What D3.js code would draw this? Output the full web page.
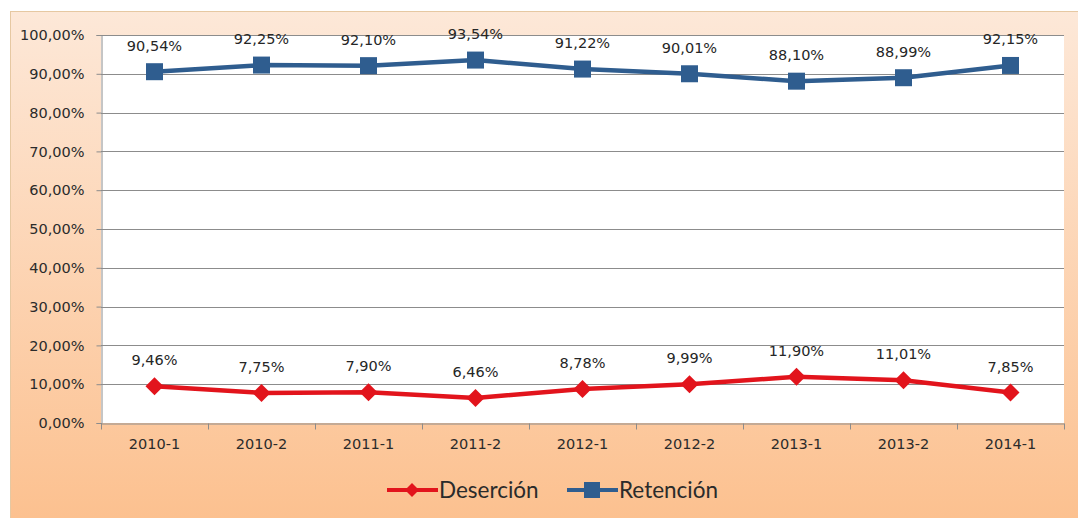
<!DOCTYPE html>
<html>
<head>
<meta charset="utf-8">
<script src="https://cdn.jsdelivr.net/npm/d3@7"></script>
<style>
  html, body { margin: 0; padding: 0; background: #fff; }
  svg { display: block; }
</style>
</head>
<body>
<script>
// chart data
const periods = ['2010-1', '2010-2', '2011-1', '2011-2', '2012-1', '2012-2', '2013-1', '2013-2', '2014-1'];
const desercion = [9.46, 7.75, 7.90, 6.46, 8.78, 9.99, 11.90, 11.01, 7.85];
const retencion = [90.54, 92.25, 92.10, 93.54, 91.22, 90.01, 88.10, 88.99, 92.15];
const yTicks = [0, 10, 20, 30, 40, 50, 60, 70, 80, 90, 100];

const W = 1078, H = 518;
const plot = { left: 101, right: 1064, top: 35, bottom: 423 };

const fmt = v => v.toFixed(2).replace('.', ',') + '%';

const svg = d3.select('body').append('svg')
    .attr('width', W)
    .attr('height', H);

const defs = svg.append('defs');
const grad = defs.append('linearGradient')
    .attr('id', 'bg')
    .attr('x1', 0).attr('y1', 0).attr('x2', 0).attr('y2', 1);
grad.append('stop').attr('offset', '0%').attr('stop-color', '#fde8d8');
grad.append('stop').attr('offset', '100%').attr('stop-color', '#fcc08e');

// outer frame
svg.append('rect')
    .attr('x', 10.5).attr('y', 11.5)
    .attr('width', W).attr('height', H)
    .attr('fill', 'url(#bg)')
    .attr('stroke', '#e6c8a2');

const x = d3.scaleBand()
    .domain(periods)
    .range([plot.left, plot.right]);

const y = d3.scaleLinear()
    .domain([0, 100])
    .range([plot.bottom, plot.top]);

// plot area
svg.append('rect')
    .attr('x', plot.left).attr('y', plot.top)
    .attr('width', plot.right - plot.left)
    .attr('height', plot.bottom - plot.top)
    .attr('fill', '#fff');

// gridlines
svg.append('g')
    .selectAll('line')
    .data(yTicks.filter(d => d > 0))
    .enter().append('line')
    .attr('x1', plot.left).attr('x2', plot.right)
    .attr('y1', d => Math.round(y(d)) + 0.5)
    .attr('y2', d => Math.round(y(d)) + 0.5)
    .attr('stroke', '#8c8c8c')
    .attr('stroke-width', 1);

// y axis
const yAxis = svg.append('g')
    .attr('transform', `translate(${plot.left + 0.5},0)`)
    .call(d3.axisLeft(y).tickValues(yTicks).tickSize(5).tickPadding(12).tickFormat(fmt));

// x axis
const xAxis = svg.append('g')
    .attr('transform', `translate(0,${plot.bottom + 0.5})`)
    .call(d3.axisBottom(x).tickSize(0).tickPadding(15));

// category boundary ticks
xAxis.append('g')
    .selectAll('line')
    .data(d3.range(periods.length + 1))
    .enter().append('line')
    .attr('x1', i => Math.round(plot.left + i * x.step()) + 0.5)
    .attr('x2', i => Math.round(plot.left + i * x.step()) + 0.5)
    .attr('y1', 0).attr('y2', 6)
    .attr('stroke', '#8c8c8c');

[yAxis, xAxis].forEach(ax => {
    ax.select('.domain').attr('stroke', '#8c8c8c');
    ax.selectAll('.tick line').attr('stroke', '#8c8c8c');
    ax.selectAll('text')
        .attr('fill', '#2b2b2b')
        .style('font-family', 'DejaVu Sans, Verdana, sans-serif')
        .style('font-size', '14.5px');
});

const cx = d => x(d) + x.bandwidth() / 2;

const series = [
    { name: 'Deserción', values: desercion, color: '#e2141c', marker: 'diamond' },
    { name: 'Retención', values: retencion, color: '#2f5d8f', marker: 'square' }
];

const markerPath = (type, s) => {
    if (type === 'square') return `M${-s},${-s}H${s}V${s}H${-s}Z`;
    return `M0,${-s}L${s},0L0,${s}L${-s},0Z`;
};

series.forEach(s => {
    const pts = periods.map((p, i) => [cx(p), y(s.values[i])]);

    svg.append('path')
        .attr('d', d3.line()(pts))
        .attr('fill', 'none')
        .attr('stroke', s.color)
        .attr('stroke-width', 4.5)
        .attr('stroke-linejoin', 'round');

    svg.append('g')
        .selectAll('path')
        .data(pts)
        .enter().append('path')
        .attr('transform', d => `translate(${d[0]},${d[1]})`)
        .attr('d', markerPath(s.marker, s.marker === 'square' ? 8.5 : 9))
        .attr('fill', s.color);

    svg.append('g')
        .selectAll('text')
        .data(s.values)
        .enter().append('text')
        .attr('x', (d, i) => cx(periods[i]))
        .attr('y', d => y(d) - 21)
        .attr('text-anchor', 'middle')
        .attr('fill', '#262626')
        .style('font-family', 'DejaVu Sans, Verdana, sans-serif')
        .style('font-size', '14.5px')
        .text(fmt);
});

// legend
const legend = svg.append('g')
    .attr('transform', 'translate(387,490)');

const legendItems = [
    { s: series[0], x: 0 },
    { s: series[1], x: 180 }
];

legendItems.forEach(item => {
    const g = legend.append('g').attr('transform', `translate(${item.x},0)`);
    g.append('line')
        .attr('x1', 0).attr('x2', 51)
        .attr('stroke', item.s.color)
        .attr('stroke-width', 4);
    g.append('path')
        .attr('transform', 'translate(25,0)')
        .attr('d', markerPath(item.s.marker, item.s.marker === 'square' ? 8 : 7))
        .attr('fill', item.s.color);
    g.append('text')
        .attr('x', 52)
        .attr('dy', '0.35em')
        .attr('fill', '#2b2b2b')
        .style('font-family', 'Lato, Noto Sans, sans-serif')
        .style('font-size', '22.5px')
        .text(item.s.name);
});
</script>
</body>
</html>
